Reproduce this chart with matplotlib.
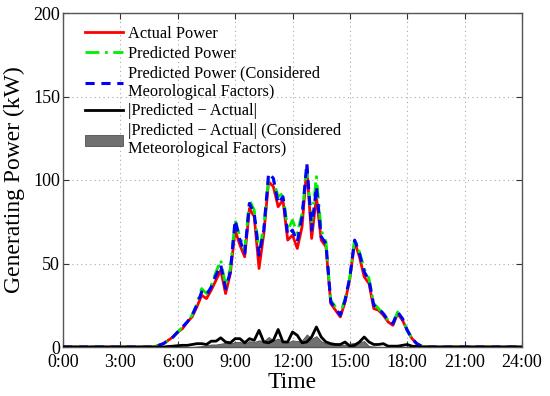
#!/usr/bin/env python
"""Actual vs predicted PV generating power over one day."""
import matplotlib.pyplot as plt
import numpy as np

# daylight window, 15-min steps from 4:45 to 19:00
hours = np.arange(4.75, 19.01, 0.25)

actual = [0, 1, 2, 4, 6, 9, 11, 15, 18, 24, 31, 29, 34, 40, 46, 32, 44, 70, 61, 54,
          83, 78, 47, 68, 99, 96, 84, 88, 64, 67, 59, 72, 108, 65, 90, 64, 60, 26, 22,
          18, 27, 41, 63, 54, 42, 38, 23, 22, 19, 15, 13, 20, 16, 10, 5, 2, 0.5, 0]
predicted = [0, 1, 2, 4, 6, 9, 12, 15, 19, 26, 35, 32, 37, 45, 52, 37, 47, 76, 66, 58,
             88, 82, 57, 72, 101, 100, 90, 92, 70, 76, 68, 80, 107, 75, 102, 70, 63, 28,
             24, 20, 29, 42, 65, 57, 47, 41, 26, 23, 20, 16, 14, 21, 17, 10, 5, 2, 0.5, 0]
predicted_met = [0, 1, 2, 4, 6, 9, 12, 15, 19, 25, 33, 31, 36, 43, 49, 35, 45, 76, 64, 56,
                 86, 80, 55, 70, 104, 101, 86, 90, 67, 70, 63, 78, 110, 70, 96, 66, 62, 27,
                 23, 19, 28, 42, 64, 56, 45, 40, 25, 23, 20, 16, 14, 21, 17, 10, 5, 2, 0.5, 0]
abs_err = [0, 0, 0, 0.3, 0.5, 0.8, 1, 1, 1.5, 2, 2, 1.5, 3.5, 3.5, 5.5, 3, 2.5, 5, 5, 2.5,
           5, 4, 10, 3, 2.5, 4, 10.5, 3, 3, 9, 7, 2.5, 3, 6, 12, 6, 3, 2, 1.5, 1.5, 3, 0.5,
           1, 3, 6, 3, 1.5, 1.5, 2, 0.5, 0.5, 0.5, 1, 1.5, 0.5, 0.3, 0, 0]
abs_err_met = [0, 0, 0, 0, 0, 0, 0, 0, 0, 0.3, 0.5, 1, 1.5, 1.5, 2, 2.5, 2, 3, 3, 2,
               3.5, 3, 4, 3.5, 6, 4, 5, 3.5, 2.5, 4, 3.5, 4, 7.5, 5, 6.5, 3.5, 2, 1.5,
               1.5, 1, 1.5, 2, 2.5, 3, 3.5, 0.5, 0.3, 0, 0, 0, 0, 0, 0, 0, 0, 0, 0, 0]

xticks = [0, 3, 6, 9, 12, 15, 18, 21, 24]
xticklabels = ["0:00", "3:00", "6:00", "9:00", "12:00", "15:00", "18:00", "21:00", "24:00"]
yticks = [0, 50, 100, 150, 200]


def full_day(values):
    """Pad the daylight series with zeros so it spans 0:00-24:00."""
    t = np.concatenate([[0.0], hours, [24.0]])
    v = np.concatenate([[0.0], values, [0.0]])
    return t, v


plt.rcParams["font.family"] = ["Liberation Serif", "DejaVu Serif"]
plt.rcParams["mathtext.fontset"] = "stix"

fig = plt.figure(figsize=(5.5, 3.96), dpi=100)
ax = fig.add_axes([63 / 550, 1 - 347 / 396, 459 / 550, 334 / 396])

t, v = full_day(actual)
ax.plot(t, v, color="#ff0000", lw=2.0, label="Actual Power", zorder=3)
t, v = full_day(predicted)
ax.plot(t, v, color="#00ee00", lw=2.0, ls=(0, (5, 2, 1, 2)), label="Predicted Power", zorder=4)
t, v = full_day(predicted_met)
ax.plot(t, v, color="#0000ff", lw=2.2, ls=(0, (3, 2.2)),
        label="Predicted Power (Considered\nMeorological Factors)", zorder=5)
t, v = full_day(abs_err)
ax.plot(t, v, color="black", lw=2.0, label="|Predicted \u2212 Actual|", zorder=6)
t, v = full_day(abs_err_met)
ax.fill_between(t, 0, v, facecolor="#707070", edgecolor="#505050", lw=0.6,
                label="|Predicted \u2212 Actual| (Considered\nMeteorological Factors)", zorder=2)

ax.set_xlim(0, 24)
ax.set_ylim(0, 200)
ax.set_xticks(xticks)
ax.set_xticklabels(xticklabels)
ax.set_yticks(yticks)
ax.tick_params(direction="in", top=True, right=True, length=4, labelsize=13, pad=2,
               color="#333333")
ax.tick_params(axis="x", pad=5)
ax.grid(True, ls=(0, (1, 3)), color="#aaaaaa", lw=0.8)
for side in ax.spines.values():
    side.set_color("#555555")
    side.set_linewidth(1.0)

ax.set_xlabel("Time", fontsize=17, labelpad=1)
ax.set_ylabel("Generating Power (kW)", fontsize=17, labelpad=6)

ax.legend(loc="upper left", frameon=False, fontsize=11.8, handlelength=2.3,
          handletextpad=0.3, labelspacing=0.22, borderaxespad=0.4,
          bbox_to_anchor=(0.02, 1.0))

fig.savefig("out.png", dpi=100)
